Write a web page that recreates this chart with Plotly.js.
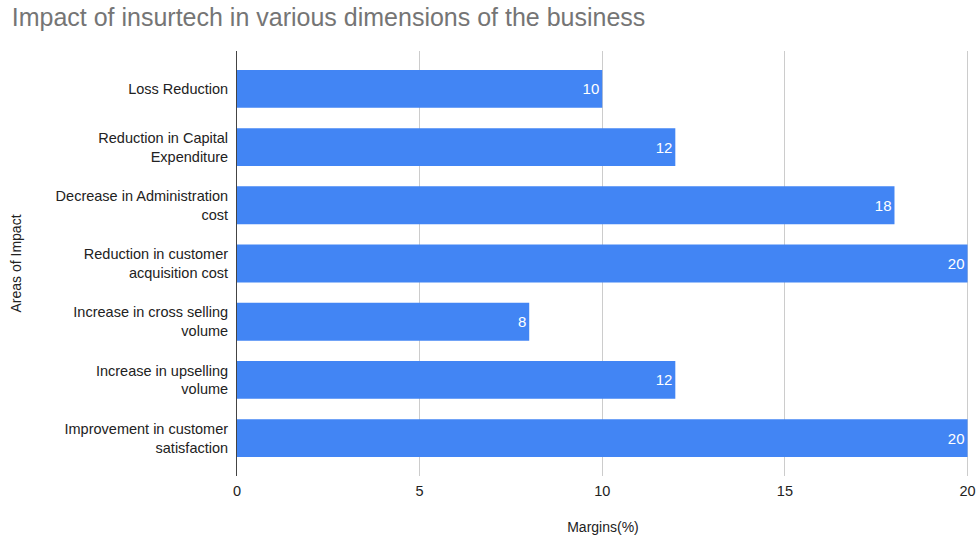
<!DOCTYPE html>
<html>
<head>
<meta charset="utf-8">
<script src="https://cdn.plot.ly/plotly-3.0.1.min.js"></script>
<style>html,body{margin:0;padding:0;background:#fff;}#chart{width:976px;height:535px;}</style>
</head>
<body>
<div id="chart"></div>
<script>
const categories = [
  "Loss Reduction",
  "Reduction in Capital<br>Expenditure",
  "Decrease in Administration<br>cost",
  "Reduction in customer<br>acquisition cost",
  "Increase in cross selling<br>volume",
  "Increase in upselling<br>volume",
  "Improvement in customer<br>satisfaction"
];
const margins = [10, 12, 18, 20, 8, 12, 20];
const xTicks = [0, 5, 10, 15, 20];

const FONT = 'Liberation Sans, Arial, Helvetica, sans-serif';

const trace = {
  type: 'bar',
  orientation: 'h',
  y: categories,
  x: margins,
  text: margins.map(String),
  textposition: 'inside',
  insidetextanchor: 'end',
  textfont: {family: FONT, size: 15, color: '#ffffff'},
  marker: {color: '#4285F4'},
  hoverinfo: 'none',
  cliponaxis: false
};

const layout = {
  width: 976, height: 535,
  margin: {l: 237, r: 7, t: 51, b: 59, pad: 0},
  paper_bgcolor: '#ffffff', plot_bgcolor: '#ffffff',
  bargap: 0.35,
  showlegend: false,
  font: {family: FONT, size: 14, color: '#222222'},
  title: {
    text: 'Impact of insurtech in various dimensions of the business',
    font: {family: FONT, size: 25, color: '#757575'},
    x: 0.012, xref: 'container', xanchor: 'left', y: 0.967, yref: 'container', yanchor: 'middle',
    pad: {l: 0}
  },
  xaxis: {
    range: [0, 20.04],
    tickvals: xTicks,
    ticktext: xTicks.map(String),
    ticklabeloverflow: 'allow',
    showgrid: true, gridcolor: '#cccccc', gridwidth: 1,
    zeroline: false, showline: false,
    ticks: 'outside', ticklen: 2, tickcolor: 'rgba(0,0,0,0)',
    tickfont: {size: 14.5, color: '#222222'},
    title: {text: 'Margins(%)', font: {size: 14, color: '#222222'}, standoff: 26}
  },
  yaxis: {
    type: 'category',
    autorange: false,
    range: [6.65, -0.65],
    showgrid: false, zeroline: false,
    showline: true, linecolor: '#444444', linewidth: 1,
    ticks: 'outside', ticklen: 5, tickcolor: 'rgba(0,0,0,0)',
    tickfont: {size: 14.5, color: '#222222'},
    title: {text: 'Areas of Impact', font: {size: 14, color: '#222222'}, standoff: 30}
  }
};

Plotly.newPlot('chart', [trace], layout, {displayModeBar: false, staticPlot: true});
</script>
</body>
</html>
